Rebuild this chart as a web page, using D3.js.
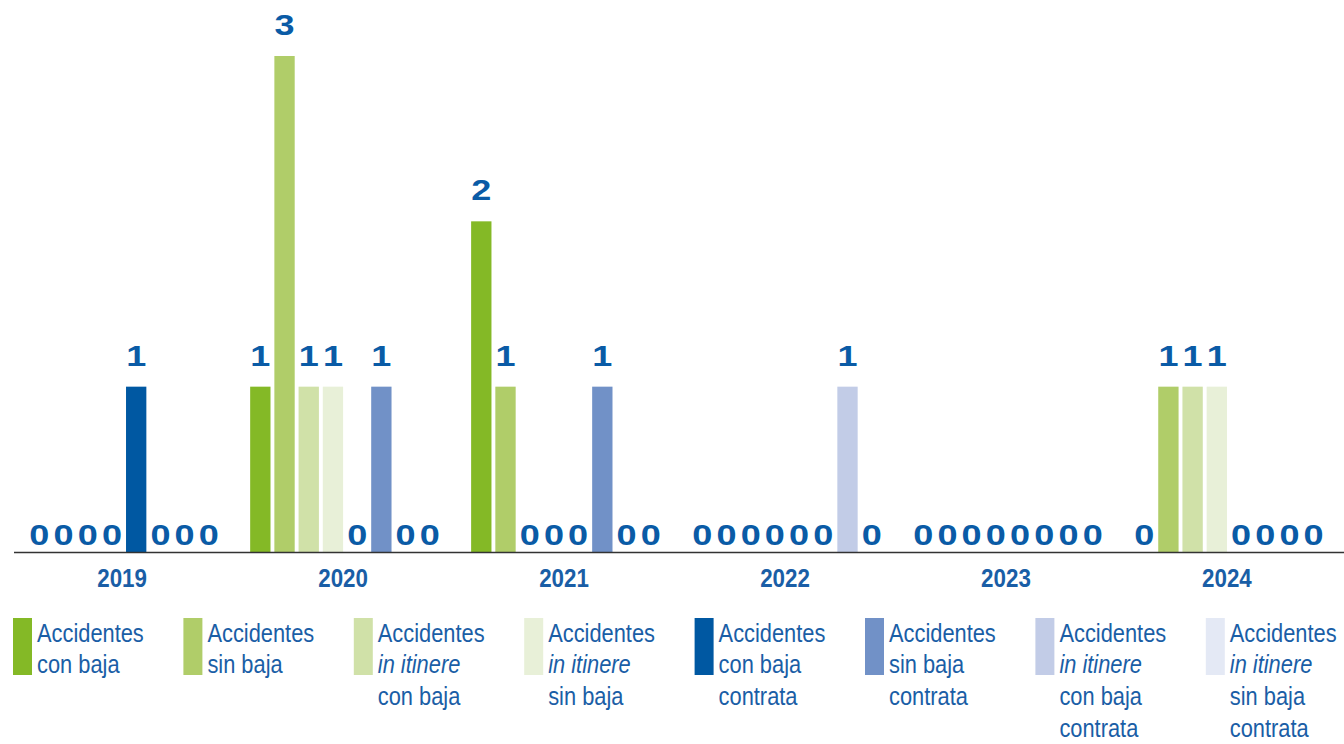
<!DOCTYPE html>
<html>
<head>
<meta charset="utf-8">
<script src="https://cdn.jsdelivr.net/npm/d3@7"></script>
<style>
  body { margin: 0; background: #fff; }
  svg { display: block; }
</style>
</head>
<body>
<div id="chart"></div>
<script>
// years on the x axis
var years = ["2019", "2020", "2021", "2022", "2023", "2024"];

// one array per series, one value per year
var conBaja          = [0, 1, 2, 0, 0, 0];
var sinBaja          = [0, 3, 1, 0, 0, 1];
var itinereConBaja   = [0, 1, 0, 0, 0, 1];
var itinereSinBaja   = [0, 1, 0, 0, 0, 1];
var contrataConBaja  = [1, 0, 0, 0, 0, 0];
var contrataSinBaja  = [0, 1, 1, 0, 0, 0];
var contrataItConBaja = [0, 0, 0, 1, 0, 0];
var contrataItSinBaja = [0, 0, 0, 0, 0, 0];

var seriesValues = [conBaja, sinBaja, itinereConBaja, itinereSinBaja,
                    contrataConBaja, contrataSinBaja, contrataItConBaja, contrataItSinBaja];

var seriesColors = ["#84b926", "#b0cd69", "#d0e1a8", "#e8f0d8",
                    "#0058a2", "#7191c7", "#c2cce7", "#e4e9f5"];

// legend lines, italic parts marked with *
var legendLabels = [
  ["Accidentes", "con baja"],
  ["Accidentes", "sin baja"],
  ["Accidentes", "*in itinere", "con baja"],
  ["Accidentes", "*in itinere", "sin baja"],
  ["Accidentes", "con baja", "contrata"],
  ["Accidentes", "sin baja", "contrata"],
  ["Accidentes", "*in itinere", "con baja", "contrata"],
  ["Accidentes", "*in itinere", "sin baja", "contrata"]
];

var width = 1344, height = 744;
var blue = "#0a5ba6";
var font = "'Liberation Sans', Arial, sans-serif";

var svg = d3.select("#chart").append("svg")
    .attr("width", width)
    .attr("height", height);

// outer band per year, inner band per series
var x0 = d3.scaleBand()
    .domain(years)
    .range([14, 1339])
    .paddingInner(0.1236)
    .paddingOuter(0.06);

var seriesIdx = d3.range(seriesValues.length);
var x1 = d3.scaleBand()
    .domain(seriesIdx)
    .range([0, x0.bandwidth()])
    .paddingInner(0.16)
    .paddingOuter(0.08);

var y = d3.scaleLinear()
    .domain([0, 3])
    .range([552, 56]);

// flatten for drawing
var cells = [];
years.forEach(function(yr, i) {
  seriesIdx.forEach(function(s) {
    cells.push({ year: yr, s: s, v: seriesValues[s][i] });
  });
});

var groups = svg.append("g");

groups.selectAll("rect")
    .data(cells.filter(function(d) { return d.v > 0; }))
    .enter().append("rect")
    .attr("x", function(d) { return x0(d.year) + x1(d.s); })
    .attr("y", function(d) { return y(d.v); })
    .attr("width", x1.bandwidth())
    .attr("height", function(d) { return y(0) - y(d.v); })
    .attr("fill", function(d) { return seriesColors[d.s]; });

// value labels: zeros sit on the baseline, others above the bar (wide bold digits)
groups.selectAll("text.val")
    .data(cells)
    .enter().append("text")
    .attr("class", "val")
    .attr("transform", function(d) {
      var cx = x0(d.year) + x1(d.s) + x1.bandwidth() / 2;
      var cy = d.v > 0 ? y(d.v) - 21 : y(0) - 7;
      return "translate(" + cx + "," + cy + ") scale(1.2,1)";
    })
    .attr("text-anchor", "middle")
    .attr("font-family", font)
    .attr("font-weight", "bold")
    .attr("font-size", 30)
    .attr("fill", blue)
    .text(function(d) { return d.v; });

// baseline
svg.append("line")
    .attr("x1", 14).attr("x2", width)
    .attr("y1", y(0) + 0.5).attr("y2", y(0) + 0.5)
    .attr("stroke", "#333")
    .attr("stroke-width", 1.3);

// year labels (bold, slightly condensed)
svg.append("g").selectAll("text")
    .data(years)
    .enter().append("text")
    .attr("transform", function(d) {
      return "translate(" + (x0(d) + x0.bandwidth() / 2 - 2) + ",587) scale(0.86,1)";
    })
    .attr("text-anchor", "middle")
    .attr("font-family", font)
    .attr("font-weight", "bold")
    .attr("font-size", 26)
    .attr("fill", "#1a5ea6")
    .text(function(d) { return d; });

// legend
var legend = svg.append("g").selectAll("g")
    .data(legendLabels)
    .enter().append("g")
    .attr("transform", function(d, i) { return "translate(" + (13 + i * 170.4) + ",618)"; });

legend.append("rect")
    .attr("width", 19)
    .attr("height", 57)
    .attr("fill", function(d, i) { return seriesColors[i]; });

legend.each(function(lines) {
  // condensed look: squeeze the text horizontally
  var g = d3.select(this).append("g").attr("transform", "translate(24,0) scale(0.84,1)");
  lines.forEach(function(line, j) {
    var italic = line.charAt(0) === "*";
    g.append("text")
      .attr("x", 0)
      .attr("y", 23.7 + j * 31.7)
      .attr("font-family", font)
      .attr("font-size", 26)
      .attr("font-style", italic ? "italic" : "normal")
      .attr("fill", "#1a5ea6")
      .text(italic ? line.slice(1) : line);
  });
});
</script>
</body>
</html>
